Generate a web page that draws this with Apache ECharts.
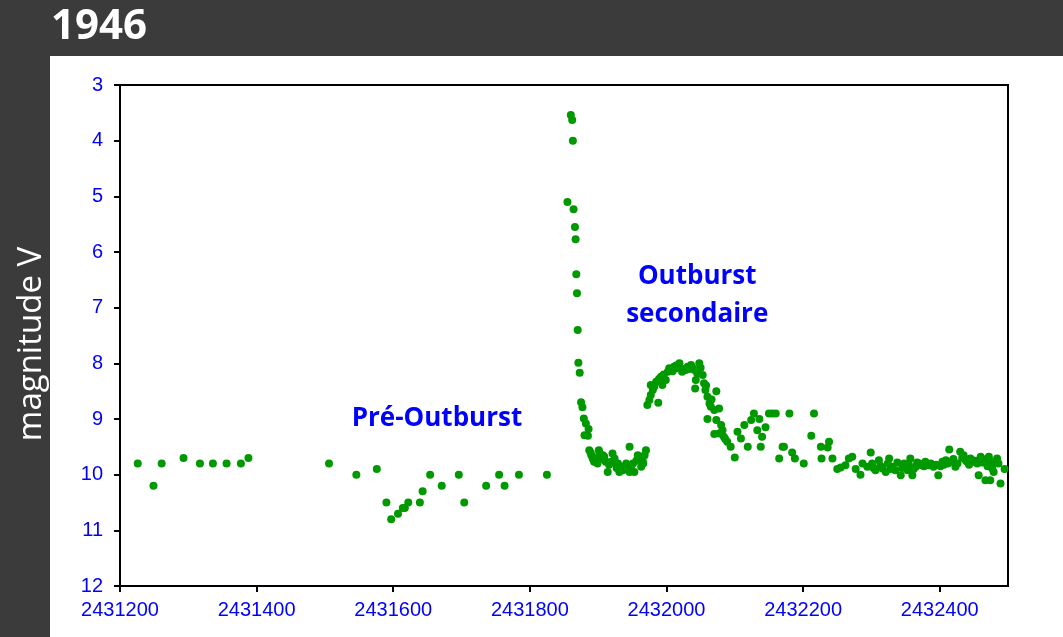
<!DOCTYPE html>
<html>
<head>
<meta charset="utf-8">
<script src="https://cdn.jsdelivr.net/npm/echarts@6/dist/echarts.min.js"></script>
<style>
  html, body { margin: 0; padding: 0; background: #3b3b3b; }
  #chart { width: 1063px; height: 637px; }
</style>
</head>
<body>
<div id="chart"></div>
<script>
// Light curve, 1946 — Julian date vs visual magnitude

// quiescence before the eruption
const jdPre = [2431226, 2431249, 2431261, 2431293, 2431317, 2431336, 2431356, 2431377, 2431388,
  2431506, 2431546, 2431576, 2431590, 2431597, 2431607, 2431614, 2431617, 2431622, 2431639,
  2431643, 2431654, 2431671, 2431696, 2431704, 2431736, 2431755, 2431763, 2431784, 2431825];
const magPre = [9.8, 10.2, 9.8, 9.7, 9.8, 9.8, 9.8, 9.8, 9.7,
  9.8, 10.0, 9.9, 10.5, 10.8, 10.7, 10.6, 10.6, 10.5, 10.5,
  10.3, 10.0, 10.2, 10.0, 10.5, 10.2, 10.0, 10.2, 10.0, 10.0];

// main eruption and fast decline
const jdPeak = [2431855, 2431860, 2431862, 2431863, 2431864, 2431866, 2431867, 2431868, 2431869,
  2431870, 2431871, 2431873, 2431875, 2431877, 2431879, 2431880, 2431882, 2431885, 2431886];
const magPeak = [5.1, 3.54, 3.63, 4.0, 5.23, 5.55, 5.77, 6.4, 6.74,
  7.4, 7.99, 8.17, 8.7, 8.79, 8.99, 9.29, 9.08, 9.3, 9.18];

// minimum between the two maxima
const jdTrough = [2431887, 2431890, 2431892, 2431894, 2431899, 2431901, 2431907, 2431911, 2431914,
  2431921, 2431924, 2431929, 2431931, 2431933, 2431938, 2431941, 2431946, 2431946, 2431951,
  2431953, 2431958, 2431963, 2431965, 2431968, 2431970, 2431902, 2431897, 2431909, 2431919, 2431926,
  2431889, 2431896, 2431905, 2431916, 2431927, 2431936, 2431943, 2431948, 2431956, 2431961, 2431966];
const magTrough = [9.56, 9.65, 9.71, 9.77, 9.8, 9.56, 9.65, 9.77, 9.95,
  9.62, 9.71, 9.8, 9.95, 9.86, 9.89, 9.8, 9.5, 9.95, 9.8,
  9.95, 9.65, 9.86, 9.74, 9.65, 9.56, 9.62, 9.77, 9.68, 9.77, 9.8,
  9.6, 9.7, 9.72, 9.82, 9.88, 9.92, 9.9, 9.86, 9.75, 9.7, 9.8];

// secondary maximum
const jdSec = [2431972, 2431975, 2431977, 2431988, 2431980, 2431977, 2431985, 2431992, 2431994,
  2431996, 2431999, 2432004, 2432002, 2432007, 2432011, 2432019, 2432016, 2432023, 2432026,
  2432031, 2432036, 2432041, 2432048, 2432045, 2432053, 2432043, 2432042, 2432055, 2432057,
  2432060, 2432066, 2432073, 2432063, 2432070, 2432077, 2432060, 2432073, 2432080, 2432082,
  2432070, 2432077, 2432084, 2432089, 2432094, 2432100, 2432104, 2432109, 2432114, 2432119,
  2432124, 2432128, 2432136, 2432133, 2432140, 2432145, 2432138,
  2431982, 2431989, 2432009, 2432014, 2432028, 2432033, 2432038, 2432050, 2432058, 2432065, 2432086];
const magSec = [8.75, 8.66, 8.57, 8.71, 8.48, 8.39, 8.33, 8.24, 8.39,
  8.2, 8.3, 8.09, 8.15, 8.1, 8.06, 8.0, 8.09, 8.15, 8.1,
  8.06, 8.03, 8.12, 8.0, 8.18, 8.21, 8.3, 8.45, 8.36, 8.48,
  8.6, 8.65, 8.5, 8.72, 8.84, 8.81, 9.0, 9.02, 9.11, 9.2,
  9.27, 9.26, 9.32, 9.41, 9.5, 9.69, 9.23, 9.35, 9.11, 9.5,
  9.02, 8.9, 9.0, 9.2, 9.32, 9.15, 9.5,
  8.42, 8.28, 8.14, 8.04, 8.12, 8.1, 8.08, 8.08, 8.4, 8.78, 9.36];

// slow return to quiescence
const jdTail = [2432150, 2432155, 2432160, 2432165, 2432170, 2432172, 2432180, 2432184, 2432188,
  2432201, 2432212, 2432216, 2432226, 2432227, 2432236, 2432238, 2432243, 2432250, 2432255,
  2432262, 2432267, 2432272, 2432277, 2432284, 2432287, 2432294, 2432299,
  2432301, 2432303, 2432306, 2432311, 2432313, 2432316, 2432321, 2432324, 2432326, 2432328,
  2432331, 2432335, 2432338, 2432343, 2432345, 2432348, 2432353, 2432355, 2432357, 2432360,
  2432362, 2432365, 2432367, 2432370, 2432374, 2432377, 2432379, 2432384, 2432387, 2432391,
  2432395, 2432398, 2432401, 2432404, 2432406, 2432409, 2432412, 2432414, 2432418, 2432420,
  2432423, 2432426, 2432430, 2432433, 2432435, 2432438, 2432440, 2432443, 2432445, 2432448,
  2432450, 2432453, 2432455, 2432457, 2432460, 2432462, 2432465, 2432467, 2432469, 2432470,
  2432472, 2432474, 2432476, 2432477, 2432479, 2432481, 2432484, 2432486, 2432489, 2432495];
const magTail = [8.9, 8.9, 8.9, 9.71, 9.5, 9.5, 8.9, 9.6, 9.71,
  9.8, 9.3, 8.9, 9.5, 9.71, 9.51, 9.41, 9.71, 9.9, 9.87,
  9.83, 9.71, 9.68, 9.9, 10.0, 9.8, 9.86, 9.6,
  9.8, 9.88, 9.92, 9.74, 9.84, 9.89, 9.95, 9.8, 9.71, 9.9,
  9.86, 9.92, 9.78, 10.01, 9.88, 9.8, 9.92, 9.82, 9.71, 10.01,
  9.9, 9.86, 9.78, 9.8, 9.83, 9.85, 9.77, 9.83, 9.8, 9.86,
  9.82, 10.01, 9.85, 9.77, 9.82, 9.74, 9.8, 9.55, 9.77, 9.72,
  9.86, 9.8, 9.59, 9.7, 9.65, 9.74, 9.77, 9.82, 9.71, 9.74,
  9.77, 9.75, 9.8, 10.01, 9.68, 9.78, 9.77, 10.1, 9.72, 9.85,
  9.68, 10.1, 9.8, 9.89, 9.95, 9.76, 9.71, 9.8, 10.16, 9.9];

// axis ticks
const yTicks = [3, 4, 5, 6, 7, 8, 9, 10, 11, 12];
const xMin = 2431200, xMax = 2432500, xStep = 200;

// annotations placed in data coordinates
const notes = [
  { jd: 2431664, mag: 9.0, text: 'Pré-Outburst' },
  { jd: 2432045, mag: 6.78, text: 'Outburst\nsecondaire' }
];

const pairs = (xs, ys) => xs.map((x, i) => [x, ys[i]]);
const points = [].concat(
  pairs(jdPre, magPre), pairs(jdPeak, magPeak), pairs(jdTrough, magTrough),
  pairs(jdSec, magSec), pairs(jdTail, magTail)
);

const chart = echarts.init(document.getElementById('chart'), null, { renderer: 'canvas' });

const baseGraphics = [
  { type: 'rect', z: -10, silent: true,
    shape: { x: 50, y: 56, width: 1013, height: 581 }, style: { fill: '#ffffff' } },
  { type: 'text', z: 10, silent: true, x: 32, y: 344, rotation: Math.PI / 2,
    style: { text: 'magnitude V', fill: '#ffffff', font: '33px "Open Sans"',
             align: 'center', verticalAlign: 'middle' } }
];

chart.setOption({
  backgroundColor: '#3b3b3b',
  animation: false,
  title: {
    text: '1946', left: 46, top: 1,
    textStyle: { color: '#ffffff', fontSize: 42, fontWeight: 'bold', fontFamily: 'Open Sans' }
  },
  grid: { left: 120, right: 55, top: 85, bottom: 51, show: true,
          borderColor: '#000000', borderWidth: 2, backgroundColor: 'transparent' },
  xAxis: {
    type: 'value', min: xMin, max: xMax, interval: xStep,
    axisLine: { show: true, onZero: false, lineStyle: { color: '#000000', width: 2 } },
    axisTick: { show: true, length: 6, lineStyle: { color: '#000000', width: 2 } },
    axisLabel: { color: '#0000ff', fontSize: 20, fontFamily: 'Liberation Sans', margin: 14,
                 showMaxLabel: false, formatter: v => String(v) },
    splitLine: { show: false }
  },
  yAxis: {
    type: 'value', inverse: true, min: yTicks[0], max: yTicks[yTicks.length - 1], interval: 1,
    axisLine: { show: true, onZero: false, lineStyle: { color: '#000000', width: 2 } },
    axisTick: { show: true, length: 6, lineStyle: { color: '#000000', width: 2 } },
    axisLabel: { color: '#0000ff', fontSize: 20, fontFamily: 'Liberation Sans', margin: 17 },
    splitLine: { show: false }
  },
  series: [{
    type: 'scatter', data: points, symbol: 'circle', symbolSize: 8,
    itemStyle: { color: '#009900', opacity: 1 }
  }],
  graphic: baseGraphics
});

// annotation text positioned through the axes' scales
const noteGraphics = notes.map(n => {
  const p = chart.convertToPixel({ gridIndex: 0 }, [n.jd, n.mag]);
  return { type: 'text', z: 10, silent: true, x: p[0], y: p[1],
    style: { text: n.text, fill: '#0000ff', font: 'bold 26px "Open Sans"',
             align: 'center', verticalAlign: 'middle', lineHeight: 38 } };
});
chart.setOption({ graphic: baseGraphics.concat(noteGraphics) }, { replaceMerge: ['graphic'] });
</script>
</body>
</html>
